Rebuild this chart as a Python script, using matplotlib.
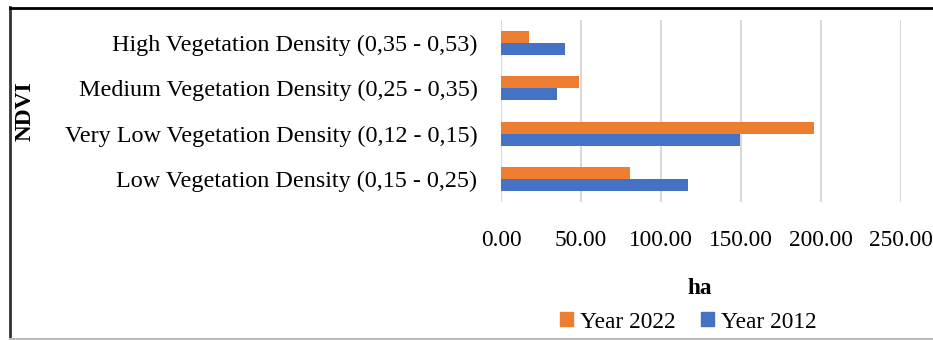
import numpy as np
import matplotlib.pyplot as plt
from matplotlib.lines import Line2D
from matplotlib.patches import Patch

plt.rcParams['font.family'] = ['Liberation Serif', 'DejaVu Serif']

# categories bottom to top, as Excel draws them
categories = ['Low Vegetation Density (0,15 - 0,25)',
              'Very Low Vegetation Density (0,12 - 0,15)',
              'Medium Vegetation Density (0,25 - 0,35)',
              'High Vegetation Density (0,35 - 0,53)']
year_2022 = [80.4, 195.4, 49.0, 17.7]
year_2012 = [116.7, 149.2, 35.2, 40.2]
x_ticks = [0, 50, 100, 150, 200, 250]

orange = '#ED7D31'
blue = '#4472C4'
fs = 16.8

W, H = 933, 340
fig = plt.figure(figsize=(W / 100, H / 100), dpi=100)
ax = fig.add_axes([501 / W, 1 - 202 / H, 400 / W, 182 / H])

y = np.arange(len(categories))
h = 0.26
ax.barh(y + h / 2, year_2022, height=h, color=orange, label='Year 2022', zorder=3)
ax.barh(y - h / 2, year_2012, height=h, color=blue, label='Year 2012', zorder=3)

ax.set_ylim(-0.5, len(categories) - 0.5)
ax.set_xlim(0, 250)
ax.set_xticks(x_ticks)
ax.set_xticklabels(['%.2f' % v for v in x_ticks], fontsize=fs)
ax.set_yticks(y)
ax.set_yticklabels(categories, fontsize=fs + 0.6)
ax.tick_params(axis='x', length=0, pad=20)
ax.tick_params(axis='y', length=0, pad=17)
ax.grid(axis='x', color='#D9D9D9', linewidth=1.5, zorder=0)
for s in ax.spines.values():
    s.set_visible(False)

fig.text(25 / W, 1 - 111 / H, 'NDVI', rotation=90, fontsize=fs, fontweight='bold',
         ha='center', va='center')
fig.text(700 / W, 1 - 288 / H, 'ha', fontsize=fs, fontweight='bold',
         ha='center', va='center')

handles = [Patch(color=orange, label='Year 2022'), Patch(color=blue, label='Year 2012')]
fig.legend(handles=handles, loc='center', bbox_to_anchor=(688 / W, 1 - 322 / H), ncol=2,
           frameon=False, fontsize=fs, handlelength=0.55, handleheight=0.55,
           handletextpad=0.3, columnspacing=1.1)

# outer frame of the screenshot
fig.add_artist(Line2D([10 / W, 10 / W], [0, 1 - 7 / H], color='#333333', linewidth=2,
                      transform=fig.transFigure))
fig.add_artist(Line2D([10 / W, 1], [1 - 8 / H, 1 - 8 / H], color='black', linewidth=2,
                      transform=fig.transFigure))
fig.add_artist(Line2D([10 / W, 1], [1 - 339 / H, 1 - 339 / H], color='#BBBBBB', linewidth=1.5,
                      transform=fig.transFigure))

fig.savefig('out.png', dpi=100)
